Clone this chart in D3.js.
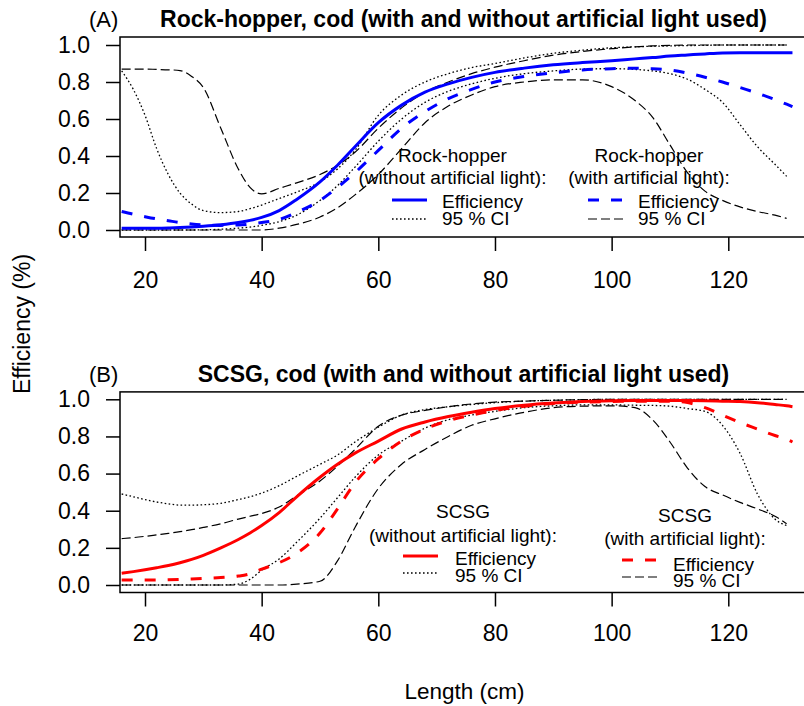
<!DOCTYPE html>
<html><head><meta charset="utf-8">
<script src="https://d3js.org/d3.v7.min.js"></script>
<style>
body{margin:0;background:#fff;}
svg text{font-family:"Liberation Sans",Arial,sans-serif;fill:#000;}
</style></head>
<body><svg id="c" width="804" height="706"></svg>
<script>
// ---- data ----
const lengths = [16,18,20,22,24,26,28,30,33,36,38,40,43,46,50,53,56,60,64,68,72,76,80,85,90,95,100,104,107,110,113,116,119,122,125,128,130,131];
const xTicks = [20,40,60,80,100,120];
const yTicks = [0,0.2,0.4,0.6,0.8,1.0];

// Panel A: Rock-hopper
const rhEffNoLight  = [.010,.010,.010,.010,.011,.013,.016,.020,.028,.040,.052,.068,.105,.165,.26,.35,.45,.58,.675,.745,.79,.825,.852,.875,.893,.905,.915,.925,.932,.94,.946,.952,.957,.958,.958,.958,.958,.958];
const rhEffLight    = [.10,.085,.072,.06,.05,.04,.033,.028,.025,.027,.032,.04,.057,.095,.16,.23,.31,.43,.55,.64,.71,.76,.80,.83,.85,.865,.872,.874,.872,.865,.848,.826,.80,.77,.74,.705,.68,.667];
const rhCiNoHi      = [.86,.76,.62,.44,.30,.20,.14,.105,.094,.10,.115,.135,.17,.205,.26,.33,.43,.62,.73,.80,.845,.878,.90,.93,.955,.972,.985,.99,.993,.995,.997,.998,1,1,1,1,1,null];
const rhCiNoLo      = [0,0,0,0,0,0,0,.001,.004,.01,.016,.025,.045,.08,.16,.24,.34,.48,.60,.69,.75,.79,.82,.845,.86,.87,.872,.868,.86,.845,.815,.76,.69,.57,.45,.355,.29,null];
const rhCiYesHi     = [.87,.87,.87,.868,.866,.862,.83,.77,.55,.33,.23,.195,.225,.255,.30,.35,.42,.55,.66,.745,.80,.845,.88,.915,.945,.965,.98,.99,.995,.998,1,1,1,1,1,1,1,null];
const rhCiYesLo     = [0,0,0,0,0,0,0,0,0,0,0,0,.01,.03,.07,.12,.19,.30,.44,.58,.67,.73,.775,.80,.812,.812,.775,.70,.61,.46,.31,.21,.16,.125,.10,.08,.063,null];

// Panel B: SCSG
const scEffNoLight  = [.063,.072,.082,.093,.105,.12,.138,.16,.20,.245,.28,.32,.39,.475,.58,.65,.71,.775,.84,.878,.907,.93,.95,.968,.98,.988,.992,.993,.993,.993,.993,.992,.99,.988,.982,.972,.965,.96];
const scEffLight    = [.027,.027,.027,.027,.028,.03,.032,.035,.04,.048,.06,.085,.12,.17,.28,.41,.55,.68,.775,.84,.885,.915,.94,.962,.978,.985,.988,.99,.99,.99,.982,.955,.915,.875,.84,.805,.785,.77];
const scCiNoHi      = [.49,.475,.46,.447,.437,.43,.43,.432,.44,.46,.475,.495,.535,.585,.65,.70,.77,.85,.915,.945,.96,.972,.982,.99,.995,.998,1,1,1,1,1,1,1,1,1,1,1,null];
const scCiNoLo      = [0,0,0,0,0,0,0,0,0,.005,.03,.08,.14,.23,.36,.47,.58,.70,.775,.845,.89,.915,.935,.955,.965,.97,.97,.968,.967,.963,.95,.935,.86,.71,.49,.355,.32,null];
const scCiYesHi     = [.25,.255,.262,.27,.278,.287,.298,.31,.33,.355,.37,.385,.42,.48,.56,.64,.73,.855,.915,.94,.96,.975,.985,.99,.995,.998,1,1,1,1,1,1,1,1,1,1,1,null];
const scCiYesLo     = [0,0,0,0,0,0,0,0,0,0,0,0,0,.005,.02,.13,.31,.52,.65,.73,.80,.86,.895,.93,.955,.963,.965,.955,.89,.77,.63,.53,.485,.445,.41,.37,.33,null];

// ---- drawing ----
const svg = d3.select("#c");
svg.append("rect").attr("width",804).attr("height",706).attr("fill","#fff");
const x = d3.scaleLinear().domain([20,120]).range([145,728.3]);
const boxL = 120, boxR = 808;

const styles = {
  effSolid: {w:3, dash:null},
  effDash:  {w:3, dash:"11,12"},
  dot:      {w:1.3, dash:"1.6,2.4"},
  longdash: {w:1.2, dash:"9,4"}
};

function panel(cfg){
  const y = d3.scaleLinear().domain([0,1]).range([cfg.y0, cfg.y1]);
  const g = svg.append("g");
  const line = d3.line().defined(d=>d[1]!==null).x(d=>x(d[0])).y(d=>y(d[1])).curve(d3.curveMonotoneX);
  cfg.series.forEach(s=>{
    const pts = lengths.map((l,i)=>[l, s.v[i]]);
    const st = styles[s.style];
    g.append("path").datum(pts).attr("d",line).attr("fill","none")
      .attr("stroke",s.color).attr("stroke-width",st.w)
      .attr("stroke-dasharray",st.dash).attr("stroke-linejoin","round");
  });
  // box
  g.append("rect").attr("x",boxL).attr("y",cfg.boxT).attr("width",boxR-boxL).attr("height",cfg.boxB-cfg.boxT)
    .attr("fill","none").attr("stroke","#000").attr("stroke-width",1.5);
  // y axis
  const ya = g.append("g").attr("transform",`translate(${boxL},0)`)
    .call(d3.axisLeft(y).tickValues(yTicks).tickFormat(d3.format(".1f")).tickSize(14).tickPadding(16));
  ya.select(".domain").remove();
  ya.selectAll("line").attr("stroke","#000").attr("stroke-width",1.5);
  ya.selectAll("text").attr("font-size",23).attr("font-family","Liberation Sans, Arial, sans-serif");
  // x axis
  const xa = g.append("g").attr("transform",`translate(0,${cfg.boxB})`)
    .call(d3.axisBottom(x).tickValues(xTicks).tickSize(14).tickPadding(cfg.xPad));
  xa.select(".domain").remove();
  xa.selectAll("line").attr("stroke","#000").attr("stroke-width",1.5);
  xa.selectAll("text").attr("font-size",23).attr("font-family","Liberation Sans, Arial, sans-serif");
  // titles
  svg.append("text").attr("x",89).attr("y",cfg.titleY).attr("font-size",22).text(cfg.tag);
  svg.append("text").attr("x",463.5).attr("y",cfg.titleY).attr("text-anchor","middle")
    .attr("font-size",23).attr("font-weight","bold").text(cfg.title);
  // legends
  cfg.legends.forEach(L=>{
    L.head.forEach(h=>{
      svg.append("text").attr("x",L.cx).attr("y",h.y).attr("text-anchor","middle").attr("font-size",19).text(h.t);
    });
    L.rows.forEach(r=>{
      const st = styles[r.style];
      svg.append("line").attr("x1",L.lx1).attr("x2",L.lx2).attr("y1",r.ly).attr("y2",r.ly)
        .attr("stroke",r.color).attr("stroke-width",st.w).attr("stroke-dasharray",st.dash);
      svg.append("text").attr("x",L.tx).attr("y",r.ty).attr("font-size",19).text(r.t);
    });
  });
}

panel({
  y0:230, y1:45, boxT:37, boxB:237, xPad:21, titleY:27, tag:"(A)",
  title:"Rock-hopper, cod (with and without artificial light used)",
  series:[
    {v:rhCiNoHi, style:"dot", color:"#000"},
    {v:rhCiNoLo, style:"dot", color:"#000"},
    {v:rhCiYesHi, style:"longdash", color:"#000"},
    {v:rhCiYesLo, style:"longdash", color:"#000"},
    {v:rhEffLight, style:"effDash", color:"#0000ff"},
    {v:rhEffNoLight, style:"effSolid", color:"#0000ff"}
  ],
  legends:[
    {cx:452.5, lx1:392, lx2:427, tx:442,
     head:[{t:"Rock-hopper",y:162},{t:"(without artificial light):",y:184}],
     rows:[{t:"Efficiency",ty:208,ly:200,style:"effSolid",color:"#0000ff"},
           {t:"95 % CI",ty:225,ly:219,style:"dot",color:"#000"}]},
    {cx:649, lx1:588, lx2:623, tx:638,
     head:[{t:"Rock-hopper",y:162},{t:"(with artificial light):",y:184}],
     rows:[{t:"Efficiency",ty:208,ly:200,style:"effDash",color:"#0000ff"},
           {t:"95 % CI",ty:225,ly:219,style:"longdash",color:"#000"}]}
  ]
});

panel({
  y0:585, y1:399.3, boxT:391.9, boxB:592.5, xPad:18, titleY:382, tag:"(B)",
  title:"SCSG, cod (with and without artificial light used)",
  series:[
    {v:scCiNoHi, style:"dot", color:"#000"},
    {v:scCiNoLo, style:"dot", color:"#000"},
    {v:scCiYesHi, style:"longdash", color:"#000"},
    {v:scCiYesLo, style:"longdash", color:"#000"},
    {v:scEffLight, style:"effDash", color:"#ff0000"},
    {v:scEffNoLight, style:"effSolid", color:"#ff0000"}
  ],
  legends:[
    {cx:463, lx1:403, lx2:438, tx:455,
     head:[{t:"SCSG",y:518},{t:"(without artificial light):",y:542}],
     rows:[{t:"Efficiency",ty:565,ly:556,style:"effSolid",color:"#ff0000"},
           {t:"95 % CI",ty:582,ly:573,style:"dot",color:"#000"}]},
    {cx:685, lx1:622, lx2:657, tx:673,
     head:[{t:"SCSG",y:522},{t:"(with artificial light):",y:545}],
     rows:[{t:"Efficiency",ty:571,ly:560,style:"effDash",color:"#ff0000"},
           {t:"95 % CI",ty:587,ly:577,style:"longdash",color:"#000"}]}
  ]
});

// axis labels
svg.append("text").attr("transform","translate(30,324) rotate(-90)").attr("text-anchor","middle")
  .attr("font-size",23).text("Efficiency (%)");
svg.append("text").attr("x",464.5).attr("y",699).attr("text-anchor","middle")
  .attr("font-size",22.5).text("Length (cm)");
</script></body></html>
